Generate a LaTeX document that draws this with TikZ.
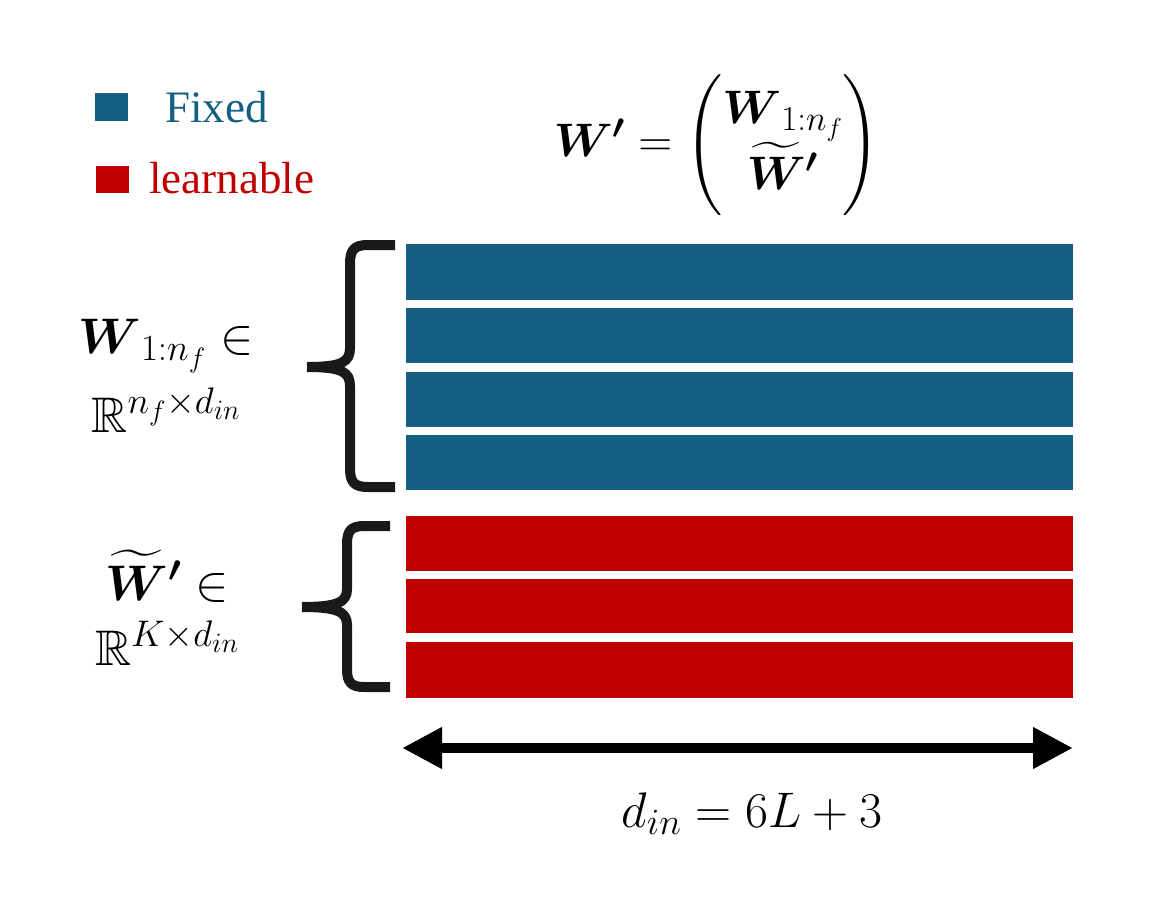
\RequirePackage{fix-cm}
\documentclass[tikz,border=0pt]{standalone}
\usepackage{amsmath,amssymb}
\usepackage{fontspec}
\setmainfont{Liberation Serif}
\DeclareMathSizes{50}{50}{37}{28}
\DeclareMathSizes{47}{47}{35}{26}
\usetikzlibrary{arrows.meta}
\definecolor{fixblue}{HTML}{156082}
\definecolor{learnred}{HTML}{C00000}
\newcommand{\Wt}{\widetilde{\boldsymbol{W}}{}^{\boldsymbol{\prime}}}
\tikzset{
  bluebar/.style={fill=fixblue,draw=none},
  redbar/.style={fill=learnred,draw=none},
  bracestroke/.style={line width=10pt,draw={black!90},line cap=butt,line join=round},
  legendtxt/.style={font=\fontsize{45}{52}\selectfont,anchor=base west,inner sep=0pt},
  mathtxt/.style={font=\fontsize{50}{60}\selectfont,inner sep=0pt,anchor=base},
}
\begin{document}
\begin{tikzpicture}[x=1pt,y=-1pt]
\useasboundingbox (0,0) rectangle (1165,899);
% legend
\fill[fixblue] (95,93) rectangle (128,121);
\node[legendtxt,text=fixblue] (lfix) at (165,122) {Fixed};
\fill[learnred] (96,166) rectangle (129,193);
\node[legendtxt,text=learnred] (llearn) at (149,193) {learnable};
% formula
\node[font=\fontsize{47}{56}\selectfont,inner sep=0pt] (form) at (717,145)
  {$\boldsymbol{W}^{\boldsymbol{\prime}} = \left(\begin{matrix}\boldsymbol{W}_{1:n_f}\\[2pt] \Wt\end{matrix}\right)$};
% blue bars
\fill[bluebar] (406,244) rectangle (1073,300);
\fill[bluebar] (406,308) rectangle (1073,363);
\fill[bluebar] (406,372) rectangle (1073,427);
\fill[bluebar] (406,435) rectangle (1073,490);
% red bars
\fill[redbar] (406,516) rectangle (1073,571);
\fill[redbar] (406,579) rectangle (1073,633);
\fill[redbar] (406,642) rectangle (1073,698);
% top brace
\draw[bracestroke] (395,245) -- (368,245) .. controls (354,245) and (350,250) .. (350,264)
  -- (350,348) .. controls (350,362) and (342,367) .. (307,367);
\draw[bracestroke] (307,367) .. controls (342,367) and (350,372) .. (350,386)
  -- (350,468) .. controls (350,482) and (354,487) .. (368,487) -- (395,487);
% bottom brace
\draw[bracestroke] (390,526) -- (364,526) .. controls (351,526) and (347,531) .. (347,544)
  -- (347,589) .. controls (347,602) and (338,607) .. (302,607);
\draw[bracestroke] (302,607) .. controls (338,607) and (347,612) .. (347,625)
  -- (347,669) .. controls (347,682) and (351,687) .. (364,687) -- (390,687);
% labels
\node[mathtxt] (l1a) at (166,353) {$\boldsymbol{W}_{1:n_f}\in$};
\node[mathtxt] (l1b) at (166,432) {$\mathbb{R}^{n_f\times d_{in}}$};
\node[mathtxt] (l2a) at (167,600) {$\Wt\in$};
\node[mathtxt] (l2b) at (167,665) {$\mathbb{R}^{K\times d_{in}}$};
% arrow
\coordinate (al) at (402,748);
\coordinate (ar) at (1073,748);
\draw[line width=10pt,{Triangle[length=40pt,width=39pt]}-{Triangle[length=40pt,width=39pt]}] (al) -- (ar);
\node[mathtxt] (din) at (752,827) {$d_{in} = 6L + 3$};
\end{tikzpicture}
\end{document}
